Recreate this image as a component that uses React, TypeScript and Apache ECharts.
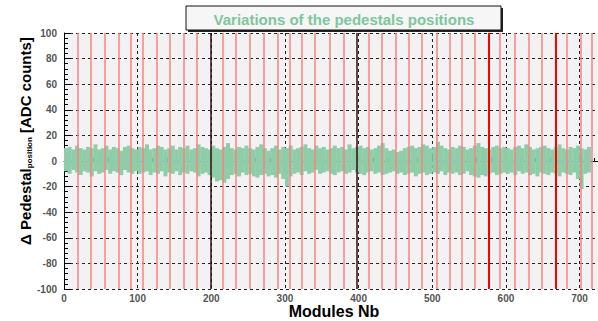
import React, { useEffect, useRef } from "react";
import * as echarts from "echarts";

// x positions of red module-boundary lines (Modules Nb)
const lightRedLines = [18, 36, 56, 75, 90, 107, 126, 143, 162, 180, 216, 233, 252, 271, 290, 306, 323, 341, 361, 380, 414, 432, 450, 468, 486, 506, 524, 540, 558, 592, 612, 631, 649, 683, 701, 717];
const strongRedLines = [576, 667];
const darkLines = [199, 398];

const binWidth = 5;
// upper edge of pedestal variation per 5-module bin [ADC counts]
const hiValues = [
  10, 11, 9, 12, 10, 9, 11, 10, 13, 9,
  10, 12, 9, 11, 10, 8, 11, 12, 10, 9,
  11, 10, 13, 9, 10, 12, 11, 9, 10, 12,
  9, 11, 10, 12, 9, 10, 13, 11, 10, 9,
  12, 10, 9, 11, 14, 10, 9, 11, 10, 12,
  10, 9, 11, 13, 10, 8, 10, 12, 9, 11,
  10, 12, 9, 10, 11, 13, 10, 9, 12, 10,
  11, 9, 10, 12, 10, 11, 9, 13, 10, 11,
  12, 10, 11, 9, 10, 12, 14, 10, 8, 9,
  7, 8, 10, 11, 12, 10, 11, 13, 12, 10,
  11, 15, 12, 10, 9, 11, 10, 12, 11, 9,
  10, 12, 14, 11, 10, 9, 11, 12, 10, 11,
  10, 9, 11, 12, 10, 13, 11, 9, 10, 11,
  12, 10, 9, 11, 13, 10, 9, 11, 10, 12,
  10, 9, 11,
];
// lower edge of pedestal variation per 5-module bin [ADC counts]
const loValues = [
  -8, -10, -7, -9, -11, -8, -9, -12, -8, -10,
  -9, -7, -10, -8, -9, -11, -7, -9, -10, -8,
  -10, -9, -8, -11, -9, -10, -8, -12, -9, -10,
  -8, -11, -9, -10, -8, -9, -12, -10, -9, -11,
  -13, -16, -15, -17, -14, -11, -10, -12, -9, -11,
  -10, -12, -13, -11, -10, -12, -11, -13, -10, -14,
  -20, -12, -10, -9, -11, -8, -10, -9, -7, -10,
  -9, -8, -10, -11, -9, -8, -10, -9, -7, -9,
  -10, -11, -9, -8, -10, -9, -11, -10, -9, -8,
  -10, -9, -11, -10, -9, -12, -10, -9, -11, -10,
  -9, -10, -8, -11, -9, -10, -9, -11, -10, -8,
  -11, -12, -13, -11, -12, -10, -9, -11, -10, -9,
  -10, -9, -11, -8, -10, -9, -11, -10, -12, -9,
  -10, -11, -9, -10, -12, -9, -10, -11, -9, -14,
  -22, -10, -9,
];

const xMin = 0;
const xMax = 725;
const yMin = -100;
const yMax = 100;
const titleText = "Variations of the pedestals positions";
const xTitle = "Modules Nb";

export default function App() {
  const ref = useRef<HTMLDivElement>(null);
  useEffect(() => {
    if (!ref.current) return;
    const chart = echarts.init(ref.current, null, { renderer: "svg" });
    const bandData = hiValues.map((h, i) => [i * binWidth, loValues[i], h]);
    const mk = (vals: number[], color: string, width: number) =>
      vals.map((v) => ({ xAxis: v, lineStyle: { color, width, type: "solid" } }));
    const grid = { left: 64, right: 0, top: 33, bottom: 32 };
    chart.setOption({
      animation: false,
      backgroundColor: "#ffffff",
      grid: { ...grid, show: true, backgroundColor: "#f2f2f2", borderWidth: 0 },
      xAxis: {
        type: "value",
        min: xMin,
        max: xMax,
        interval: 100,
        axisLine: { show: true, lineStyle: { color: "#000", width: 1 } },
        axisTick: { show: true, inside: true, length: 6, lineStyle: { color: "#000" } },
        minorTick: { show: true, splitNumber: 5, length: 3, lineStyle: { color: "#000" } },
        axisLabel: {
          margin: 4,
          fontSize: 10,
          fontFamily: "Liberation Sans",
          fontWeight: "bold",
          color: "#555",
          showMaxLabel: false,
        },
        splitLine: { show: true, lineStyle: { color: "#222", type: [3, 3], width: 1 } },
      },
      yAxis: {
        type: "value",
        min: yMin,
        max: yMax,
        interval: 20,
        axisLine: { show: true, lineStyle: { color: "#000", width: 1 } },
        axisTick: { show: true, inside: true, length: 7, lineStyle: { color: "#000" } },
        minorTick: { show: true, splitNumber: 5, length: 4, lineStyle: { color: "#000" } },
        axisLabel: {
          margin: 7,
          fontSize: 10,
          fontFamily: "Liberation Sans",
          fontWeight: "bold",
          color: "#555",
        },
        splitLine: { show: true, lineStyle: { color: "#222", type: [3, 3], width: 1 } },
      },
      series: [
        {
          type: "custom",
          data: bandData,
          renderItem: (params: any, api: any) => {
            const x = api.value(0);
            const lo = api.value(1);
            const hi = api.value(2);
            const p1 = api.coord([x, hi]);
            const p2 = api.coord([x + binWidth, lo]);
            return {
              type: "rect",
              shape: { x: p1[0], y: p1[1], width: p2[0] - p1[0] + 0.3, height: p2[1] - p1[1] },
              style: { fill: "#8dcda8" },
            };
          },
          markLine: {
            silent: true,
            symbol: "none",
            label: { show: false },
            data: [
              ...mk(lightRedLines, "#ff7f7f", 1.5),
              ...mk(strongRedLines, "#ff0000", 2),
              ...mk(darkLines, "#3a0808", 1.5),
            ],
          },
        },
      ],
      graphic: [
        { type: "rect", shape: { x: 188, y: 8, width: 315, height: 24 }, style: { fill: "#222" } },
        {
          type: "rect",
          shape: { x: 186, y: 6, width: 315, height: 24 },
          style: { fill: "#f6f6f6", stroke: "#111", lineWidth: 1 },
        },
        {
          type: "text",
          x: 344,
          y: 19,
          style: {
            text: titleText,
            fill: "#7cc79c",
            font: "bold 15px 'Liberation Sans'",
            align: "center",
            verticalAlign: "middle",
          },
        },
        {
          type: "text",
          x: 334,
          y: 311,
          style: {
            text: xTitle,
            fill: "#000",
            font: "bold 16px 'Liberation Sans'",
            align: "center",
            verticalAlign: "middle",
          },
        },
        {
          type: "text",
          x: 24,
          y: 141,
          rotation: Math.PI / 2,
          style: {
            text: "{a|Δ Pedestal}{b|position}{a| [ADC counts]}",
            align: "center",
            verticalAlign: "middle",
            rich: {
              a: { font: "bold 15px 'Liberation Sans'", fill: "#000", verticalAlign: "bottom" },
              b: { font: "bold 8px 'Liberation Sans'", fill: "#000", padding: [10, 0, 0, 0], verticalAlign: "bottom" },
            },
          },
        },
      ],
    });
    return () => chart.dispose();
  }, []);
  return (
    <div
      ref={ref}
      style={{ position: "fixed", left: 0, top: 0, width: 598, height: 321 }}
    />
  );
}
